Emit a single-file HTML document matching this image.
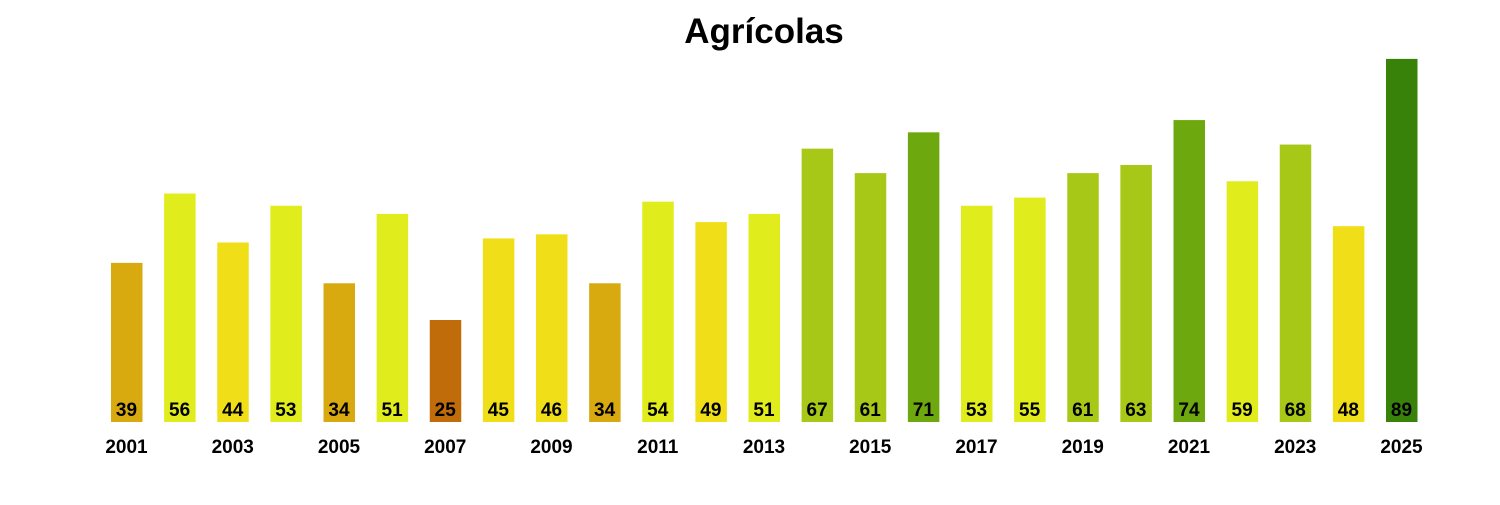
<!DOCTYPE html>
<html><head><meta charset="utf-8"><style>
body{margin:0;background:#fff;}
svg text{font-family:"Liberation Sans",Arial,sans-serif;font-weight:bold;}
</style></head><body>
<svg width="1500" height="500" xmlns="http://www.w3.org/2000/svg">
<text x="764" y="43" font-size="35" text-anchor="middle">Agrícolas</text>
<g id="bars"></g>
</svg>
<script>
const v=[39,56,44,53,34,51,25,45,46,34,54,49,51,67,61,71,53,55,61,63,74,59,68,48,89];
function col(x){if(x<30)return"#C06C0A";if(x<40)return"#D8AA10";if(x<50)return"#F0DF18";if(x<60)return"#E1EC1C";if(x<70)return"#A8C818";if(x<80)return"#6CA80E";return"#38820A";}
let s="";
v.forEach((x,i)=>{const c=126.5+i*53.125,h=x*4.08,y=422-h;
s+=`<rect x="${c-15.5}" y="${y}" width="31.5" height="${h}" fill="${col(x)}"/>`;
s+=`<text x="${c}" y="416" font-size="19" text-anchor="middle">${x}</text>`;
if(i%2==0)s+=`<text x="${c}" y="453" font-size="19" text-anchor="middle">${2001+i}</text>`;});
document.getElementById("bars").innerHTML=s;
</script>
</body></html>
